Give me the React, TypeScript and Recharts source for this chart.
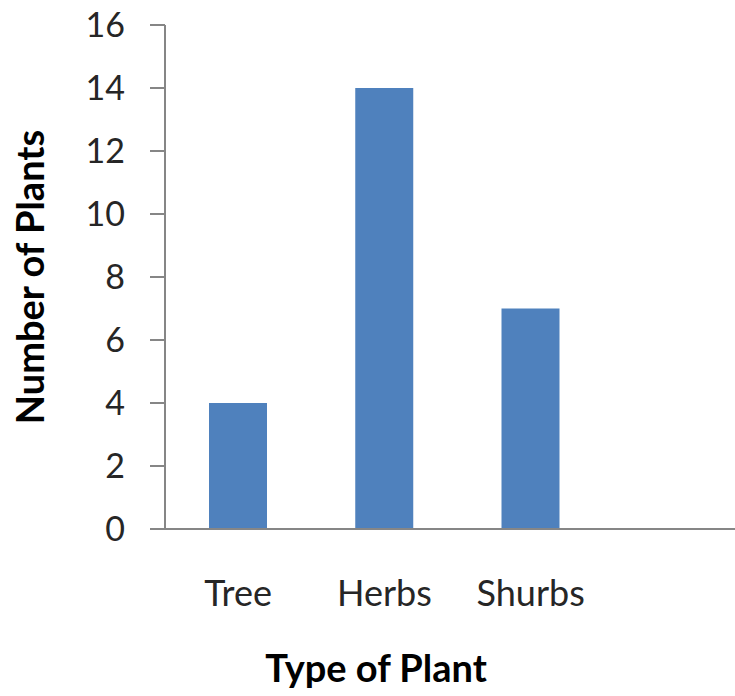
import { BarChart, Bar, XAxis, YAxis, Label } from "recharts";

// plant survey counts; the 4th slot is an empty category (axis runs past the crop)
const categories = ["Tree", "Herbs", "Shurbs", ""];
const plantCounts = [4, 14, 7, null];
const yTicks = [0, 2, 4, 6, 8, 10, 12, 14, 16];

const data = categories.map((name, i) => ({ name, count: plantCounts[i] }));

const FONT = "Lato, 'Open Sans', sans-serif";
const AXIS = "#868686";
const TEXT = "#262626";

export default function App() {
  return (
    <div
      style={{
        position: "absolute",
        left: 0,
        top: 0,
        width: 735,
        height: 696,
        overflow: "hidden",
        background: "#fff",
      }}
    >
      <BarChart
        width={750}
        height={696}
        data={data}
        margin={{ top: 25, right: 0, bottom: 0, left: 0 }}
        barCategoryGap={44}
      >
        <XAxis
          dataKey="name"
          stroke={AXIS}
          strokeWidth={2}
          tickLine={false}
          tickMargin={45}
          height={167}
          tick={{ fill: TEXT, fontSize: 36, fontFamily: FONT }}
        >
          <Label
            content={({ viewBox }: any) => (
              <text
                x={viewBox.x + 211}
                y={viewBox.y + 153}
                textAnchor="middle"
                fill="#000"
                fontSize={38}
                fontWeight="bold"
                fontFamily={FONT}
              >
                Type of Plant
              </text>
            )}
          />
        </XAxis>
        <YAxis
          domain={[0, 16]}
          ticks={yTicks}
          width={165}
          stroke={AXIS}
          strokeWidth={2}
          tickSize={15}
          tickMargin={25}
          interval={0}
          tick={{ fill: TEXT, fontSize: 34, fontFamily: FONT }}
        >
          <Label
            content={({ viewBox }: any) => (
              <text
                x={29}
                y={viewBox.y + viewBox.height / 2}
                transform={`rotate(-90, 29, ${viewBox.y + viewBox.height / 2})`}
                textAnchor="middle"
                dominantBaseline="central"
                fill="#000"
                fontSize={38}
                fontWeight="bold"
                fontFamily={FONT}
              >
                Number of Plants
              </text>
            )}
          />
        </YAxis>
        <Bar dataKey="count" fill="#4F81BD" isAnimationActive={false} />
      </BarChart>
    </div>
  );
}
